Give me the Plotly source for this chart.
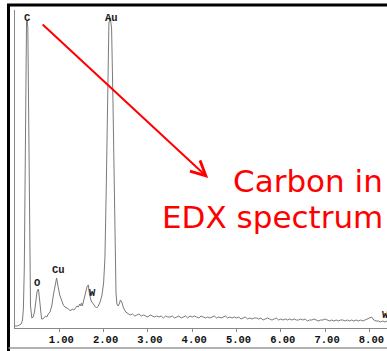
import plotly.graph_objects as go

# EDX spectrum (energy in keV, counts in arbitrary units)
energy_kev = [
    0.00, 0.05, 0.10, 0.14, 0.17, 0.19, 0.21, 0.23, 0.245, 0.26, 0.275, 0.29, 0.305, 0.32, 0.335, 0.35,
    0.38, 0.41, 0.44, 0.47, 0.50, 0.53, 0.55, 0.57, 0.60, 0.63, 0.66, 0.69, 0.72, 0.75, 0.79,
    0.83, 0.87, 0.91, 0.94, 0.97, 1.01, 1.05, 1.09, 1.13, 1.17, 1.21, 1.25, 1.29, 1.33, 1.37,
    1.40, 1.43, 1.46, 1.48, 1.50, 1.52, 1.56, 1.60, 1.63, 1.655, 1.68, 1.72, 1.76, 1.80, 1.84,
    1.88, 1.92, 1.96, 2.00, 2.03, 2.06, 2.09, 2.12, 2.15, 2.18, 2.21, 2.24, 2.26, 2.28, 2.30,
    2.33, 2.36, 2.38, 2.41, 2.45,
    2.50, 2.55, 2.60, 2.65, 2.70, 2.75, 2.80, 2.85, 2.90, 2.95, 3.00, 3.05, 3.10, 3.15, 3.20,
    3.25, 3.30, 3.35, 3.40, 3.45, 3.50, 3.55, 3.60, 3.65, 3.70, 3.75, 3.80, 3.85, 3.90, 3.95,
    4.00, 4.05, 4.10, 4.15, 4.20, 4.25, 4.30, 4.35, 4.40, 4.45, 4.50, 4.55, 4.60, 4.65, 4.70,
    4.75, 4.80, 4.85, 4.90, 4.95, 5.00, 5.05, 5.10, 5.15, 5.20, 5.25, 5.30, 5.35, 5.40, 5.45,
    5.50, 5.55, 5.60, 5.65, 5.70, 5.75, 5.80, 5.85, 5.90, 5.95, 6.00, 6.05, 6.10, 6.15, 6.20,
    6.25, 6.30, 6.35, 6.40, 6.45, 6.50, 6.55, 6.60, 6.65, 6.70, 6.75, 6.80, 6.85, 6.90, 6.95,
    7.00, 7.05, 7.10, 7.15, 7.20, 7.25, 7.30, 7.35, 7.40, 7.45, 7.50, 7.55, 7.60, 7.65, 7.70,
    7.75, 7.80, 7.85, 7.90, 7.95, 8.00, 8.05, 8.10, 8.15, 8.20, 8.25, 8.30, 8.35, 8.40,
]
counts = [
    2, 2, 3, 4, 8, 20, 60, 150, 260, 306, 308, 300, 230, 120, 50, 22,
    10, 11, 16, 28, 37, 39, 30, 16, 9, 9, 11, 12, 11, 14, 16,
    22, 34, 46, 50, 42, 33, 28, 23, 21, 20, 19, 17, 19, 18, 20,
    22, 21, 24, 22, 25, 22, 30, 38, 42, 43, 34, 27, 24, 22, 20,
    22, 26, 32, 45, 70, 140, 240, 305, 310, 300, 230, 130, 70, 35, 24,
    22, 25, 28, 26, 20,
    16, 14, 13, 14, 12, 13, 14, 12, 13, 12, 11, 13, 12, 11, 12,
    11, 12, 10, 12, 11, 11, 12, 10, 11, 12, 10, 11, 12, 10, 12,
    11, 12, 11, 10, 12, 11, 10, 11, 10, 11, 12, 10, 11, 10, 11,
    12, 10, 11, 10, 11, 10, 11, 9, 10, 11, 9, 10, 9, 10, 10,
    9, 10, 8, 9, 10, 9, 8, 9, 10, 8, 9, 8, 9, 8, 9,
    8, 9, 8, 8, 9, 8, 9, 7, 8, 8, 9, 8, 7, 8, 8,
    9, 8, 7, 8, 7, 8, 7, 8, 8, 7, 8, 7, 8, 7, 8,
    7, 8, 7, 8, 9, 10, 11, 8, 7, 7, 6, 7, 6, 7,
]

peak_labels = ["C", "Au", "O", "Cu", "W", "W"]
peak_label_kev = [0.29, 2.17, 0.50, 0.99, 1.74, 8.36]
peak_label_counts = [310, 310, 45, 58, 35, 13]

tick_values = [1, 2, 3, 4, 5, 6, 7, 8]

x_max = 8.397
y_max = 318

fig = go.Figure()
fig.add_trace(go.Scatter(
    x=energy_kev, y=counts, mode="lines",
    line=dict(color="#7a7a7a", width=1),
    hoverinfo="skip", showlegend=False, cliponaxis=True,
))

for lab, xk, yc in zip(peak_labels, peak_label_kev, peak_label_counts):
    fig.add_annotation(
        x=xk, y=yc, text=lab, showarrow=False,
        font=dict(family="Liberation Mono", size=10.5, color="#1a1a1a", weight="bold"),
        xanchor="center", yanchor="middle",
    )

# red arrow
fig.add_annotation(
    x=4.36, y=150, ax=-167, ay=-155, text="", showarrow=True,
    arrowhead=5, arrowsize=1.45, arrowwidth=2, arrowcolor="#ff0000", standoff=0,
)

red_font = dict(family="DejaVu Sans", size=31, color="#ff0000")
fig.add_annotation(
    xref="paper", yref="paper", x=0.9946, y=0.4623, text="Carbon in",
    showarrow=False, xanchor="right", yanchor="middle", font=red_font,
)
fig.add_annotation(
    xref="paper", yref="paper", x=0.9946, y=0.349, text="EDX spectrum",
    showarrow=False, xanchor="right", yanchor="middle", font=red_font,
)

# frame
fig.add_shape(type="line", xref="paper", yref="paper", x0=-0.0175, x1=-0.0175,
              y0=1.0157, y1=-0.08, line=dict(color="#000000", width=3))
fig.add_shape(type="line", xref="paper", yref="paper", x0=-0.0215, x1=1.01,
              y0=1.0157, y1=1.0157, line=dict(color="#000000", width=3))
fig.add_shape(type="line", xref="paper", yref="paper", x0=-0.0175, x1=1.01,
              y0=-0.0629, y1=-0.0629, line=dict(color="#999999", width=1.5))

fig.update_layout(
    width=387, height=351,
    margin=dict(l=15, r=0, t=10, b=23),
    paper_bgcolor="white", plot_bgcolor="white",
    showlegend=False,
)
fig.update_xaxes(
    range=[0, x_max], tickvals=tick_values, tickformat=".2f",
    ticks="outside", ticklen=3, tickcolor="#888888", tickwidth=1,
    showline=True, linecolor="#888888", linewidth=1,
    showgrid=False, zeroline=False, ticklabelshift=2,
    ticklabeloverflow="allow", ticklabelstandoff=-2,
    tickfont=dict(family="Liberation Mono", size=10.5, color="#111111", weight="bold"),
)
fig.update_yaxes(
    range=[0, y_max], showticklabels=False, ticks="",
    showline=True, linecolor="#888888", linewidth=1,
    showgrid=False, zeroline=False,
)

fig.write_html("out.html")
